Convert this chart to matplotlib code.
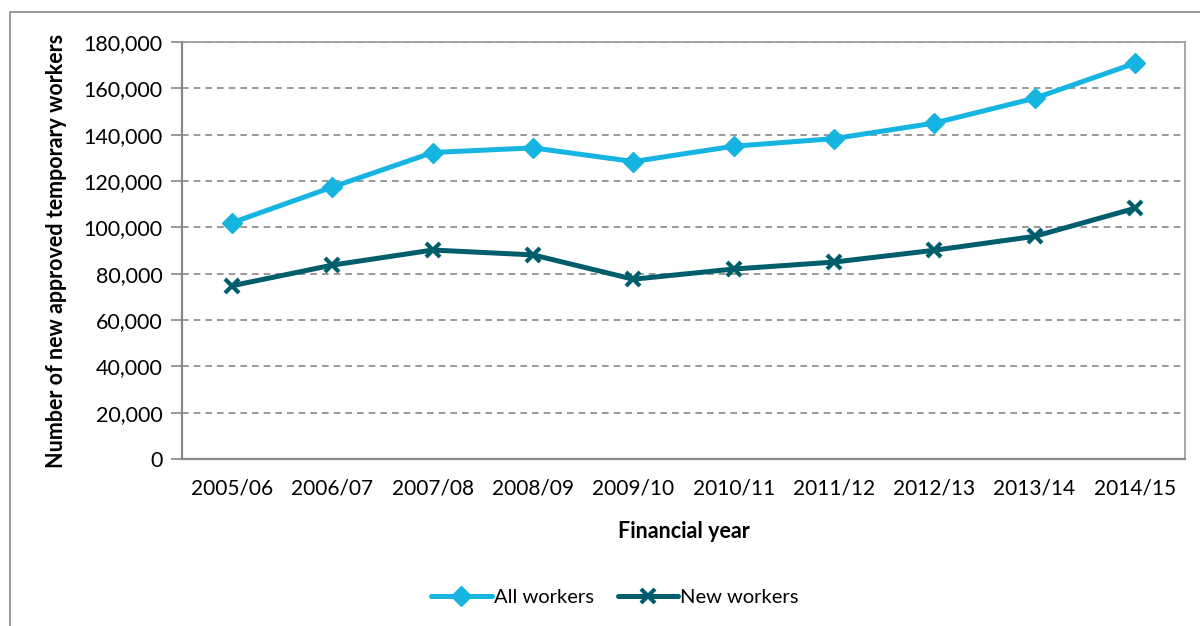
import matplotlib
matplotlib.use("Agg")
import matplotlib.pyplot as plt
from matplotlib.patches import Rectangle
from matplotlib.ticker import FuncFormatter

years = ["2005/06", "2006/07", "2007/08", "2008/09", "2009/10",
         "2010/11", "2011/12", "2012/13", "2013/14", "2014/15"]
all_workers = [102000, 117400, 132300, 134300, 128400, 135000, 138300, 145000, 155700, 170800]
new_workers = [74800, 83700, 90200, 88100, 77600, 82000, 85000, 90100, 96100, 108200]

plt.rcParams['font.family'] = ['Lato', 'DejaVu Sans']

fig = plt.figure(figsize=(12, 6.26), dpi=100)
ax = fig.add_axes([182/1200, 1 - 459/626, (1185-182)/1200, (459-42)/626])

x = list(range(len(years)))
ax.plot(x, all_workers, color='#16B4E0', lw=3.6, marker='D', ms=10,
        solid_capstyle='round', label='All workers', zorder=3)
ax.plot(x, new_workers, color='#005E6C', lw=3.6, marker='x', ms=10, mew=3,
        solid_capstyle='round', label='New workers', zorder=3)

ax.set_xlim(-0.5, 9.5)
ax.set_ylim(0, 180000)
ax.set_yticks(range(0, 180001, 20000))
ax.yaxis.set_major_formatter(FuncFormatter(lambda v, p: f"{int(v):,}"))
ax.set_xticks(x)
ax.set_xticklabels(years)
ax.tick_params(axis='x', length=0, pad=14, labelsize=15, colors='black')
ax.tick_params(axis='y', length=8, width=1.2, color='#888888', pad=6, labelsize=15.5)

ax.grid(axis='y', color='#888888', ls=(0, (4, 3)), lw=1.2)
ax.set_axisbelow(True)
for s in ['left', 'bottom']:
    ax.spines[s].set_color('#888888')
    ax.spines[s].set_linewidth(1.6)
for s in ['top', 'right']:
    ax.spines[s].set_color('#999999')
    ax.spines[s].set_linewidth(1.2)

ax.set_xlabel("Financial year", fontsize=15.5, fontweight='bold', labelpad=16)
ax.set_ylabel("Number of new approved temporary workers", fontsize=15.5,
              fontweight='bold', labelpad=12)

leg = fig.legend(loc='center', bbox_to_anchor=(615/1200, 1 - 597/626), ncol=2,
                 frameon=False, fontsize=14.5, handlelength=3.0, handletextpad=0.1,
                 columnspacing=1.2)

fig.patches.append(Rectangle((10/1200, -0.05), 1.1, (626-12)/626 + 0.05,
                             transform=fig.transFigure, fill=False,
                             edgecolor='#888888', lw=1.2))

fig.savefig("out.png", dpi=100)
